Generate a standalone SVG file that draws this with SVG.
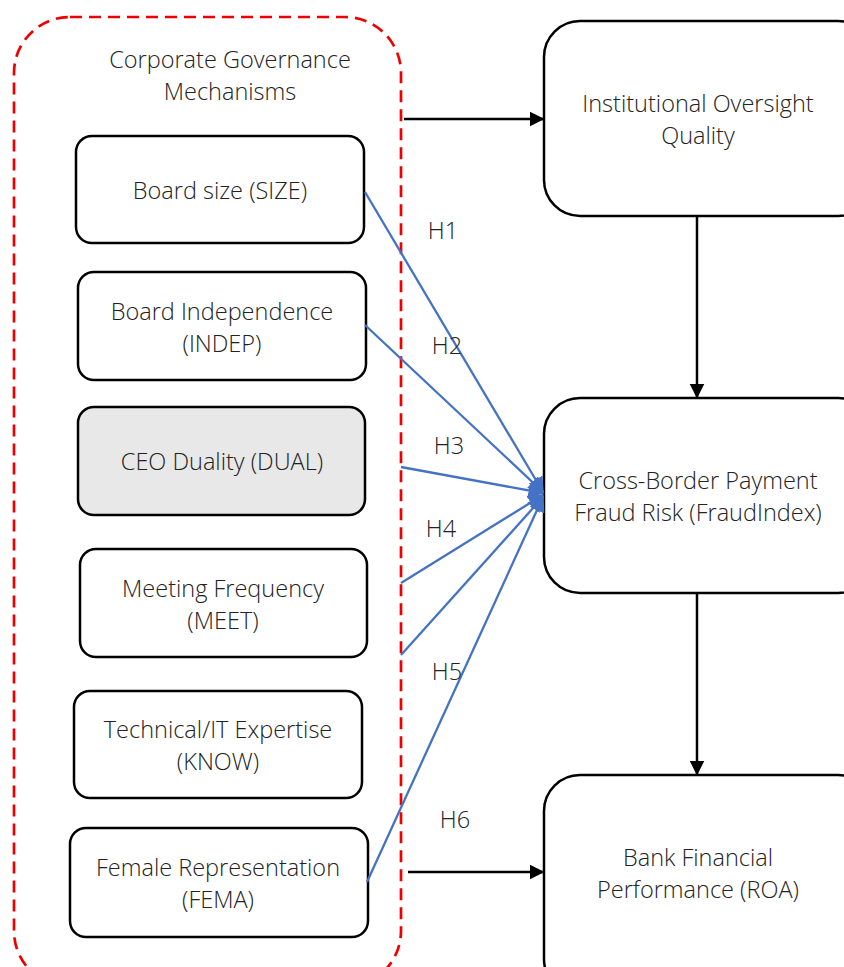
<svg xmlns="http://www.w3.org/2000/svg" width="844" height="967" viewBox="0 0 844 967">
<defs>
<style>
text{font-family:"Open Sans","Noto Sans",sans-serif;font-size:23.5px;fill:#222;text-anchor:middle;font-weight:300}
.n{fill:#fff;stroke:#000;stroke-width:2.5}
.g{fill:#e8e8e8}
.blue{stroke:#4472c4;stroke-width:2.3;fill:none;marker-end:url(#ab)}
.blk{stroke:#000;stroke-width:2.5;fill:none;marker-end:url(#ak)}
</style>
<marker id="ab" viewBox="0 0 10 10" refX="9" refY="5" markerWidth="7" markerHeight="7" orient="auto" markerUnits="strokeWidth"><path d="M0,0L10,5L0,10z" fill="#4472c4"/></marker>
<marker id="ak" viewBox="0 0 10 10" refX="9" refY="5" markerWidth="6" markerHeight="6" orient="auto" markerUnits="strokeWidth"><path d="M0,0L10,5L0,10z" fill="#000"/></marker>
</defs>
<rect width="844" height="967" fill="#fff"/>
<g id="group-cgm">
<rect x="14" y="17" width="387" height="970" rx="56" fill="none" stroke="#e00" stroke-width="2.7" stroke-dasharray="12,7"/>
<text x="230" y="68">Corporate Governance</text>
<text x="230" y="100">Mechanisms</text>
</g>
<g id="size"><rect class="n" x="76" y="136" width="288" height="107" rx="16"/><text x="220" y="199">Board size (SIZE)</text></g>
<g id="indep"><rect class="n" x="78" y="272" width="288" height="108" rx="16"/><text x="222" y="320">Board Independence</text><text x="222" y="352">(INDEP)</text></g>
<g id="dual"><rect class="n g" x="78" y="407" width="287" height="108" rx="16"/><text x="222" y="470">CEO Duality (DUAL)</text></g>
<g id="meet"><rect class="n" x="80" y="549" width="287" height="108" rx="16"/><text x="223" y="597">Meeting Frequency</text><text x="223" y="629">(MEET)</text></g>
<g id="know"><rect class="n" x="74" y="691" width="288" height="107" rx="16"/><text x="218" y="738">Technical/IT Expertise</text><text x="218" y="770">(KNOW)</text></g>
<g id="fema"><rect class="n" x="70" y="828" width="298" height="109" rx="16"/><text x="218" y="876">Female Representation</text><text x="218" y="908">(FEMA)</text></g>
<g id="oversight"><rect class="n" x="544" y="21" width="330" height="195" rx="36"/><text x="698" y="112">Institutional Oversight</text><text x="698" y="144">Quality</text></g>
<g id="fraud"><rect class="n" x="544" y="398" width="330" height="195" rx="36"/><text x="698" y="489">Cross-Border Payment</text><text x="698" y="521">Fraud Risk (FraudIndex)</text></g>
<g id="roa"><rect class="n" x="544" y="775" width="330" height="220" rx="36"/><text x="698" y="866">Bank Financial</text><text x="698" y="898">Performance (ROA)</text></g>
<g id="connectors">
<path class="blue" d="M365,192L543,492"/>
<path class="blue" d="M365,325L543,492"/>
<path class="blue" d="M401,467L543,493"/>
<path class="blue" d="M401,583L543,495"/>
<path class="blue" d="M401,655L543,497"/>
<path class="blue" d="M367,882L543,497"/>
<path class="blk" d="M404,119L543,119"/>
<path class="blk" d="M697,216L697,397"/>
<path class="blk" d="M697,593L697,774"/>
<path class="blk" d="M408,872L543,872"/>
<text x="443" y="239">H1</text>
<text x="447" y="354">H2</text>
<text x="449" y="454">H3</text>
<text x="441" y="537">H4</text>
<text x="447" y="680">H5</text>
<text x="455" y="828">H6</text>
</g>
</svg>
